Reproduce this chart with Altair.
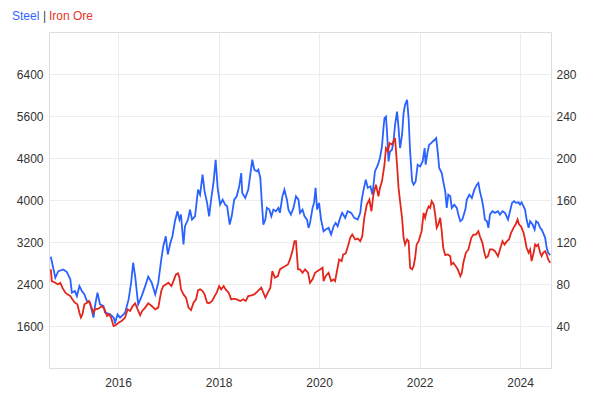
import altair as alt
import pandas as pd

# ---- data (decimal year, value) ----
steel_t = [2014.66, 2014.75, 2014.81, 2014.91, 2014.98, 2015.05, 2015.08, 2015.14, 2015.18, 2015.23,
           2015.28, 2015.33, 2015.38, 2015.44, 2015.51, 2015.54, 2015.59, 2015.64, 2015.71, 2015.74,
           2015.84, 2015.91, 2015.94, 2015.99, 2016.04, 2016.11, 2016.14, 2016.21, 2016.26, 2016.30,
           2016.34, 2016.40, 2016.47, 2016.54, 2016.60, 2016.67, 2016.74, 2016.80, 2016.86, 2016.90,
           2016.95, 2016.99, 2017.04, 2017.08, 2017.13, 2017.18, 2017.22, 2017.25, 2017.30, 2017.33,
           2017.39, 2017.43, 2017.47, 2017.53, 2017.59, 2017.63, 2017.68, 2017.72, 2017.77, 2017.81,
           2017.85, 2017.90, 2017.94, 2017.98, 2018.03, 2018.08, 2018.13, 2018.17, 2018.22, 2018.26,
           2018.31, 2018.36, 2018.41, 2018.45, 2018.47, 2018.53, 2018.59, 2018.63, 2018.67, 2018.71,
           2018.76, 2018.79, 2018.83, 2018.86, 2018.89, 2018.93, 2018.96, 2019.01, 2019.05, 2019.09,
           2019.14, 2019.19, 2019.22, 2019.27, 2019.31, 2019.36, 2019.39, 2019.44, 2019.49, 2019.54,
           2019.59, 2019.62, 2019.67, 2019.71, 2019.76, 2019.79, 2019.82, 2019.87, 2019.90, 2019.93,
           2019.96, 2020.00, 2020.04, 2020.09, 2020.13, 2020.19, 2020.24, 2020.29, 2020.33, 2020.37,
           2020.42, 2020.46, 2020.52, 2020.57, 2020.64, 2020.70, 2020.77, 2020.82, 2020.85, 2020.88,
           2020.93, 2020.97, 2021.02, 2021.06, 2021.11, 2021.17, 2021.21, 2021.25, 2021.28, 2021.30,
           2021.33, 2021.35, 2021.38, 2021.41, 2021.45, 2021.48, 2021.51, 2021.55, 2021.58, 2021.61,
           2021.65, 2021.68, 2021.71, 2021.75, 2021.78, 2021.81, 2021.85, 2021.88, 2021.92, 2021.96,
           2022.01, 2022.06, 2022.10, 2022.12, 2022.16, 2022.19, 2022.23, 2022.26, 2022.30, 2022.33,
           2022.36, 2022.39, 2022.44, 2022.47, 2022.51, 2022.54, 2022.57, 2022.61, 2022.64, 2022.69,
           2022.74, 2022.77, 2022.81, 2022.85, 2022.91, 2022.94, 2022.99, 2023.04, 2023.09, 2023.14,
           2023.17, 2023.20, 2023.24, 2023.27, 2023.30, 2023.34, 2023.37, 2023.40, 2023.45, 2023.50,
           2023.56, 2023.60, 2023.65, 2023.70, 2023.76, 2023.80, 2023.84, 2023.88, 2023.92, 2023.97,
           2024.00, 2024.03, 2024.07, 2024.10, 2024.13, 2024.17, 2024.20, 2024.25, 2024.29, 2024.32,
           2024.36, 2024.40, 2024.43, 2024.46, 2024.50, 2024.53, 2024.56, 2024.60]
steel_v = [2919, 2520, 2645, 2677, 2626, 2487, 2235, 2265, 2170, 2360,
           2265, 2202, 2075, 2045, 1760, 1980, 2235, 2012, 1980, 1855,
           1822, 1760, 1665, 1822, 1760, 1822, 1855, 2107, 2425, 2805,
           2550, 2012, 2170, 2360, 2540, 2425, 2202, 2425, 2867, 3120,
           3310, 2962, 3185, 3310, 3595, 3785, 3627, 3722, 3152, 3500,
           3627, 3817, 3627, 3690, 4197, 4102, 4482, 4165, 3945, 3690,
           4007, 4355, 4767, 4230, 3912, 4007, 3912, 3880, 3532, 3690,
           4007, 4070, 4260, 4514, 4134, 4039, 4197, 4482, 4767, 4577,
           4545, 4577, 4420, 3945, 3532, 3627, 3850, 3817, 3690, 3817,
           3785, 3850, 3755, 4070, 4197, 4007, 3817, 3722, 3850, 4070,
           4007, 3755, 3817, 3690, 3627, 3469, 3564, 3850, 3945, 4230,
           3817, 3945, 3627, 3405, 3437, 3469, 3342, 3500, 3564, 3500,
           3659, 3755, 3659, 3785, 3755, 3659, 3627, 3755, 4007, 4165,
           4387, 4230, 4260, 4102, 4545, 4672, 4800, 5020, 5370, 5560,
           5590, 5305, 4735, 4925, 4957, 5115, 5432, 5685, 5370, 4990,
           5242, 5655, 5812, 5907, 5560, 4925, 4355, 4292, 4355, 4672,
           4640, 4735, 4990, 4672, 4925, 5052, 5084, 5115, 5147, 5179,
           4925, 4610, 4514, 4355, 4165, 3850, 4102, 4070, 3850, 3912,
           3850, 3722, 3595, 3627, 3817, 4007, 4102, 4039, 4197, 4292,
           4324, 4165, 4007, 3850, 3627, 3595, 3469, 3722, 3785, 3755,
           3785, 3722, 3785, 3755, 3627, 3785, 3945, 3977, 3945, 3957,
           3912, 3957, 3880, 3817, 3627, 3469, 3595, 3532, 3437, 3595,
           3564, 3469, 3437, 3374, 3279, 3089, 2994, 2950]

iron_t = [2014.66, 2014.68, 2014.75, 2014.80, 2014.85, 2014.89, 2014.95, 2015.00, 2015.05, 2015.09,
          2015.14, 2015.19, 2015.23, 2015.26, 2015.29, 2015.33, 2015.38, 2015.42, 2015.46, 2015.51,
          2015.54, 2015.61, 2015.68, 2015.73, 2015.78, 2015.82, 2015.86, 2015.91, 2015.95, 2016.01,
          2016.07, 2016.14, 2016.19, 2016.24, 2016.29, 2016.34, 2016.39, 2016.44, 2016.48, 2016.54,
          2016.60, 2016.67, 2016.74, 2016.80, 2016.86, 2016.90, 2016.95, 2017.00, 2017.06, 2017.10,
          2017.15, 2017.19, 2017.22, 2017.25, 2017.30, 2017.35, 2017.40, 2017.45, 2017.50, 2017.55,
          2017.59, 2017.63, 2017.68, 2017.72, 2017.77, 2017.81, 2017.87, 2017.92, 2017.96, 2018.01,
          2018.05, 2018.10, 2018.14, 2018.20, 2018.25, 2018.30, 2018.36, 2018.43, 2018.49, 2018.54,
          2018.59, 2018.65, 2018.71, 2018.78, 2018.85, 2018.89, 2018.93, 2018.98, 2019.03, 2019.07,
          2019.12, 2019.18, 2019.22, 2019.27, 2019.32, 2019.38, 2019.42, 2019.47, 2019.51, 2019.54,
          2019.58, 2019.62, 2019.67, 2019.72, 2019.78, 2019.82, 2019.87, 2019.92, 2019.97, 2020.02,
          2020.07, 2020.09, 2020.13, 2020.19, 2020.24, 2020.29, 2020.32, 2020.35, 2020.40, 2020.45,
          2020.48, 2020.53, 2020.58, 2020.62, 2020.66, 2020.72, 2020.77, 2020.82, 2020.86, 2020.90,
          2020.95, 2021.00, 2021.04, 2021.08, 2021.13, 2021.18, 2021.21, 2021.25, 2021.30, 2021.33,
          2021.37, 2021.40, 2021.45, 2021.48, 2021.51, 2021.55, 2021.58, 2021.61, 2021.65, 2021.68,
          2021.71, 2021.75, 2021.78, 2021.81, 2021.85, 2021.88, 2021.91, 2021.94, 2021.98, 2022.01,
          2022.04, 2022.08, 2022.11, 2022.14, 2022.18, 2022.21, 2022.24, 2022.28, 2022.31, 2022.34,
          2022.37, 2022.41, 2022.44, 2022.47, 2022.51, 2022.56, 2022.61, 2022.63, 2022.67, 2022.72,
          2022.76, 2022.81, 2022.84, 2022.87, 2022.92, 2022.97, 2023.03, 2023.07, 2023.12, 2023.17,
          2023.20, 2023.25, 2023.29, 2023.32, 2023.36, 2023.40, 2023.45, 2023.50, 2023.56, 2023.60,
          2023.65, 2023.69, 2023.74, 2023.78, 2023.82, 2023.87, 2023.91, 2023.95, 2023.98, 2024.02,
          2024.07, 2024.10, 2024.13, 2024.17, 2024.20, 2024.23, 2024.27, 2024.30, 2024.33, 2024.36,
          2024.40, 2024.43, 2024.46, 2024.50, 2024.53, 2024.56, 2024.60]
iron_v = [93.9, 82.8, 81.2, 79.6, 81.2, 76.5, 71.7, 70.1, 68.5, 65.4,
          62.2, 60.6, 52.7, 48.0, 51.1, 60.6, 62.2, 63.8, 59.0, 52.7,
          55.9, 56.5, 59.0, 55.9, 49.5, 51.1, 48.0, 40.0, 40.7, 43.2,
          44.8, 48.0, 55.9, 54.3, 59.0, 61.6, 55.9, 50.2, 54.3, 57.5,
          61.6, 59.0, 55.9, 57.5, 73.3, 78.0, 79.6, 81.2, 78.0, 82.8,
          89.1, 90.1, 86.0, 74.9, 70.1, 67.0, 57.5, 55.2, 62.2, 65.4,
          74.2, 74.9, 73.3, 70.1, 62.2, 61.6, 63.8, 68.5, 71.7, 78.0,
          74.9, 78.0, 74.9, 71.7, 65.4, 66.0, 65.4, 63.8, 65.4, 63.8,
          68.5, 69.2, 70.1, 73.3, 76.5, 71.7, 67.0, 71.7, 76.5, 92.3,
          86.0, 87.5, 93.9, 95.5, 97.0, 98.6, 103.4, 111.3, 120.8, 120.8,
          93.9, 93.9, 90.7, 93.9, 90.7, 81.2, 84.4, 90.7, 92.3, 93.9,
          95.5, 82.8, 87.5, 90.7, 82.8, 84.4, 82.8, 90.7, 103.4, 101.8,
          108.1, 109.0, 117.0, 124.0, 127.1, 122.4, 123.3, 120.8, 125.5, 143.0,
          155.6, 160.4, 149.3, 165.1, 174.6, 163.5, 171.5, 177.8, 193.6, 209.5,
          206.3, 214.2, 212.6, 215.8, 219.0, 193.6, 171.5, 158.8, 143.0, 124.0,
          117.6, 122.4, 120.8, 95.5, 93.9, 97.0, 105.0, 117.6, 120.8, 125.5,
          130.3, 147.7, 143.0, 149.3, 154.0, 152.5, 158.8, 155.6, 146.1, 133.5,
          136.6, 143.0, 130.3, 114.5, 107.5, 108.1, 106.5, 98.6, 100.2, 97.0,
          93.9, 87.5, 90.7, 100.2, 109.7, 112.9, 124.0, 127.1, 127.1, 130.3,
          125.5, 119.2, 109.7, 105.0, 106.5, 112.9, 112.9, 111.3, 106.5, 112.9,
          120.8, 117.6, 120.8, 122.4, 128.7, 133.5, 136.6, 141.4, 136.6, 135.0,
          128.7, 122.4, 114.5, 109.7, 112.9, 101.8, 109.7, 117.6, 116.0, 117.6,
          109.7, 106.5, 109.7, 111.3, 108.1, 103.4, 100.2]

steel_ticks = [1600, 2400, 3200, 4000, 4800, 5600, 6400]
iron_ticks = [40, 80, 120, 160, 200, 240, 280]
year_ticks = [2016, 2018, 2020, 2022, 2024]


def to_date(t):
    y = int(t)
    return (pd.Timestamp(y, 1, 1) + pd.Timedelta(days=(t - y) * 365.25)).strftime("%Y-%m-%dT%H:%M:%S")


steel_df = pd.DataFrame({"date": [to_date(t) for t in steel_t], "value": steel_v})
iron_df = pd.DataFrame({"date": [to_date(t) for t in iron_t], "value": iron_v})

FONT = "Liberation Sans"
BLUE = "#2962ff"
RED = "#e3261b"
GRID = "#ececec"

x_enc = alt.X(
    "date:T",
    title=None,
    scale=alt.Scale(domain=[alt.DateTime(year=2014, month=8, date=17),
                            alt.DateTime(year=2024, month=8, date=13)]),
    axis=alt.Axis(values=[alt.DateTime(year=y, month=1, date=1) for y in year_ticks],
                  format="%Y", grid=True, gridColor=GRID, ticks=False, domain=False,
                  labelPadding=9, labelFont=FONT, labelFontSize=12, labelColor="#333333"),
)

steel = alt.Chart(steel_df).mark_line(color=BLUE, strokeWidth=1.8).encode(
    x=x_enc,
    y=alt.Y("value:Q", title=None,
            scale=alt.Scale(domain=[800, 7200], nice=False, zero=False),
            axis=alt.Axis(orient="left", values=steel_ticks, format="d", grid=True, gridColor=GRID,
                          ticks=False, domain=False, labelPadding=6, labelFont=FONT,
                          labelFontSize=12, labelColor="#333333")),
)

iron = alt.Chart(iron_df).mark_line(color=RED, strokeWidth=1.8).encode(
    x=x_enc,
    y=alt.Y("value:Q", title=None,
            scale=alt.Scale(domain=[0, 320], nice=False, zero=False),
            axis=alt.Axis(orient="right", values=iron_ticks, format="d", grid=False,
                          ticks=False, domain=False, labelPadding=5, labelFont=FONT,
                          labelFontSize=12, labelColor="#333333")),
)

title_data = alt.Data(values=[{"k": 1}])


def title_part(txt, xpos, color):
    return alt.Chart(title_data).mark_text(
        align="left", baseline="alphabetic", font=FONT, fontSize=12, color=color
    ).encode(x=alt.value(xpos), y=alt.value(-12), text=alt.value(txt))


chart = alt.layer(
    steel,
    iron,
    title_part("Steel", -37, "#3366ff"),
    title_part("|", -6, "#444444"),
    title_part("Iron Ore", 0, "#e8362a"),
).resolve_scale(y="independent").properties(
    width=502,
    height=336,
    autosize=alt.AutoSizeParams(type="none"),
    padding={"left": 41, "top": 24, "right": 41, "bottom": 25},
).configure_view(stroke=GRID, strokeWidth=1).configure(background="white")

chart.save("out.html", embed_options={"renderer": "svg", "actions": False})
